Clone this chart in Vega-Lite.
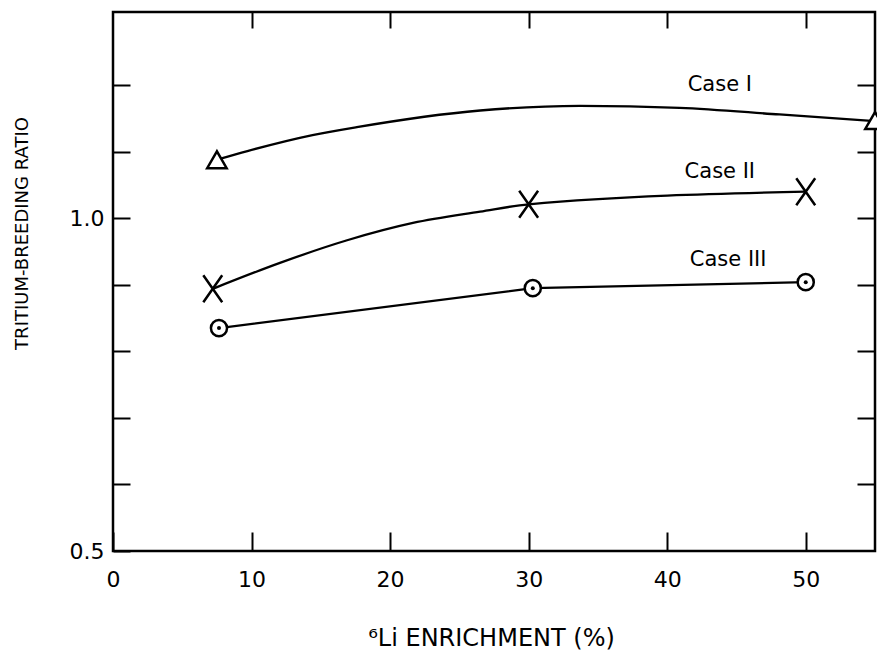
{
  "$schema": "https://vega.github.io/schema/vega-lite/v6.json",
  "width": 762,
  "height": 539,
  "autosize": "none",
  "padding": {"left": 113, "top": 12, "right": 2, "bottom": 99},
  "background": "white",
  "config": {
    "font": "DejaVu Sans",
    "view": {"stroke": "black", "strokeWidth": 2.5},
    "axis": {
      "grid": false,
      "domain": false,
      "tickColor": "black",
      "tickWidth": 2,
      "labelColor": "black",
      "titleColor": "black",
      "labelFont": "DejaVu Sans",
      "titleFont": "DejaVu Sans",
      "labelFontSize": 22,
      "titleFontWeight": "normal",
      "labelFlush": false,
      "labelOverlap": false
    }
  },
  "datasets": {
    "pts": [
      {"series": "Case I", "role": "curve", "enrich": 7.5, "tbr": 1.088},
      {"series": "Case I", "role": "curve", "enrich": 9.7, "tbr": 1.101},
      {"series": "Case I", "role": "curve", "enrich": 14.4, "tbr": 1.125},
      {"series": "Case I", "role": "curve", "enrich": 17.6, "tbr": 1.137},
      {"series": "Case I", "role": "curve", "enrich": 26.5, "tbr": 1.162},
      {"series": "Case I", "role": "curve", "enrich": 33.7, "tbr": 1.169},
      {"series": "Case I", "role": "curve", "enrich": 40.9, "tbr": 1.166},
      {"series": "Case I", "role": "curve", "enrich": 48.1, "tbr": 1.156},
      {"series": "Case I", "role": "curve", "enrich": 55, "tbr": 1.146},
      {"series": "Case II", "role": "curve", "enrich": 7.2, "tbr": 0.894},
      {"series": "Case II", "role": "curve", "enrich": 12.05, "tbr": 0.933},
      {"series": "Case II", "role": "curve", "enrich": 16.9, "tbr": 0.967},
      {"series": "Case II", "role": "curve", "enrich": 21.65, "tbr": 0.993},
      {"series": "Case II", "role": "curve", "enrich": 26.5, "tbr": 1.010},
      {"series": "Case II", "role": "curve", "enrich": 30, "tbr": 1.021},
      {"series": "Case II", "role": "curve", "enrich": 50, "tbr": 1.040},
      {"series": "Case III", "role": "curve", "enrich": 7.65, "tbr": 0.835},
      {"series": "Case III", "role": "curve", "enrich": 30.3, "tbr": 0.895},
      {"series": "Case III", "role": "curve", "enrich": 50, "tbr": 0.904},
      {"series": "Case I", "role": "marker", "enrich": 7.5, "tbr": 1.088},
      {"series": "Case I", "role": "marker", "enrich": 55, "tbr": 1.147},
      {"series": "Case II", "role": "marker", "enrich": 7.2, "tbr": 0.894},
      {"series": "Case II", "role": "marker", "enrich": 30, "tbr": 1.021},
      {"series": "Case II", "role": "marker", "enrich": 50, "tbr": 1.040},
      {"series": "Case III", "role": "marker", "enrich": 7.65, "tbr": 0.835},
      {"series": "Case III", "role": "marker", "enrich": 30.3, "tbr": 0.895},
      {"series": "Case III", "role": "marker", "enrich": 50, "tbr": 0.904}
    ],
    "labels": [
      {"label": "Case I", "enrich": 43.8, "tbr": 1.2},
      {"label": "Case II", "enrich": 43.8, "tbr": 1.069},
      {"label": "Case III", "enrich": 44.4, "tbr": 0.937}
    ]
  },
  "layer": [
    {
      "data": {"name": "pts"},
      "encoding": {
        "x": {
          "field": "enrich",
          "type": "quantitative",
          "scale": {"domain": [0, 55], "nice": false, "zero": false},
          "axis": {
            "orient": "bottom",
            "values": [0, 10, 20, 30, 40, 50],
            "tickSize": -19,
            "labelPadding": 37,
            "title": "⁶Li ENRICHMENT (%)",
            "titleFontSize": 24,
            "titleX": 378,
            "titleY": 94,
            "titleBaseline": "alphabetic"
          }
        },
        "y": {
          "field": "tbr",
          "type": "quantitative",
          "scale": {"domain": [0.5, 1.31], "nice": false, "zero": false},
          "axis": {
            "orient": "left",
            "values": [0.5, 0.6, 0.7, 0.8, 0.9, 1.0, 1.1, 1.2],
            "labelExpr": "datum.value == 0.5 || datum.value == 1 ? format(datum.value, '.1f') : ''",
            "tickSize": -17,
            "labelPadding": 26,
            "title": "TRITIUM-BREEDING RATIO",
            "titleFontSize": 18,
            "titleX": -91,
            "titleY": 221,
            "titleBaseline": "middle"
          }
        }
      },
      "layer": [
        {
          "transform": [{"filter": "datum.role == 'curve' && datum.series != 'Case III'"}],
          "mark": {"type": "line", "interpolate": "monotone", "color": "black", "strokeWidth": 2.3},
          "encoding": {"detail": {"field": "series"}}
        },
        {
          "transform": [{"filter": "datum.role == 'curve' && datum.series == 'Case III'"}],
          "mark": {"type": "line", "interpolate": "linear", "color": "black", "strokeWidth": 2.3},
          "encoding": {"detail": {"field": "series"}}
        },
        {
          "transform": [{"filter": "datum.role == 'marker' && datum.series == 'Case I'"}],
          "mark": {"type": "point", "shape": "triangle-up", "size": 380, "filled": false, "fill": "white", "fillOpacity": 1, "stroke": "black", "strokeWidth": 2.5, "opacity": 1}
        },
        {
          "transform": [{"filter": "datum.role == 'marker' && datum.series == 'Case II'"}],
          "mark": {"type": "point", "shape": "M-0.7,-1L0.7,1M-0.7,1L0.7,-1", "size": 729, "filled": false, "stroke": "black", "strokeWidth": 2.5, "opacity": 1}
        },
        {
          "transform": [{"filter": "datum.role == 'marker' && datum.series == 'Case III'"}],
          "mark": {"type": "point", "shape": "circle", "size": 260, "filled": false, "fill": "white", "fillOpacity": 1, "stroke": "black", "strokeWidth": 2.5, "opacity": 1}
        },
        {
          "transform": [{"filter": "datum.role == 'marker' && datum.series == 'Case III'"}],
          "mark": {"type": "point", "shape": "circle", "filled": true, "color": "black", "size": 16, "opacity": 1}
        }
      ]
    },
    {
      "data": {"name": "labels"},
      "mark": {"type": "text", "font": "DejaVu Sans", "fontSize": 21, "align": "center", "baseline": "middle", "color": "black"},
      "encoding": {
        "x": {
          "field": "enrich",
          "type": "quantitative",
          "scale": {"domain": [0, 55], "nice": false, "zero": false},
          "axis": {"orient": "top", "values": [10, 20, 30, 40, 50], "labels": false, "tickSize": -16, "title": null}
        },
        "y": {
          "field": "tbr",
          "type": "quantitative",
          "scale": {"domain": [0.5, 1.31], "nice": false, "zero": false},
          "axis": {"orient": "right", "values": [0.6, 0.7, 0.8, 0.9, 1.0, 1.1, 1.2], "labels": false, "tickSize": -18, "title": null}
        },
        "text": {"field": "label"}
      }
    }
  ],
  "resolve": {"scale": {"x": "independent", "y": "independent"}}
}
